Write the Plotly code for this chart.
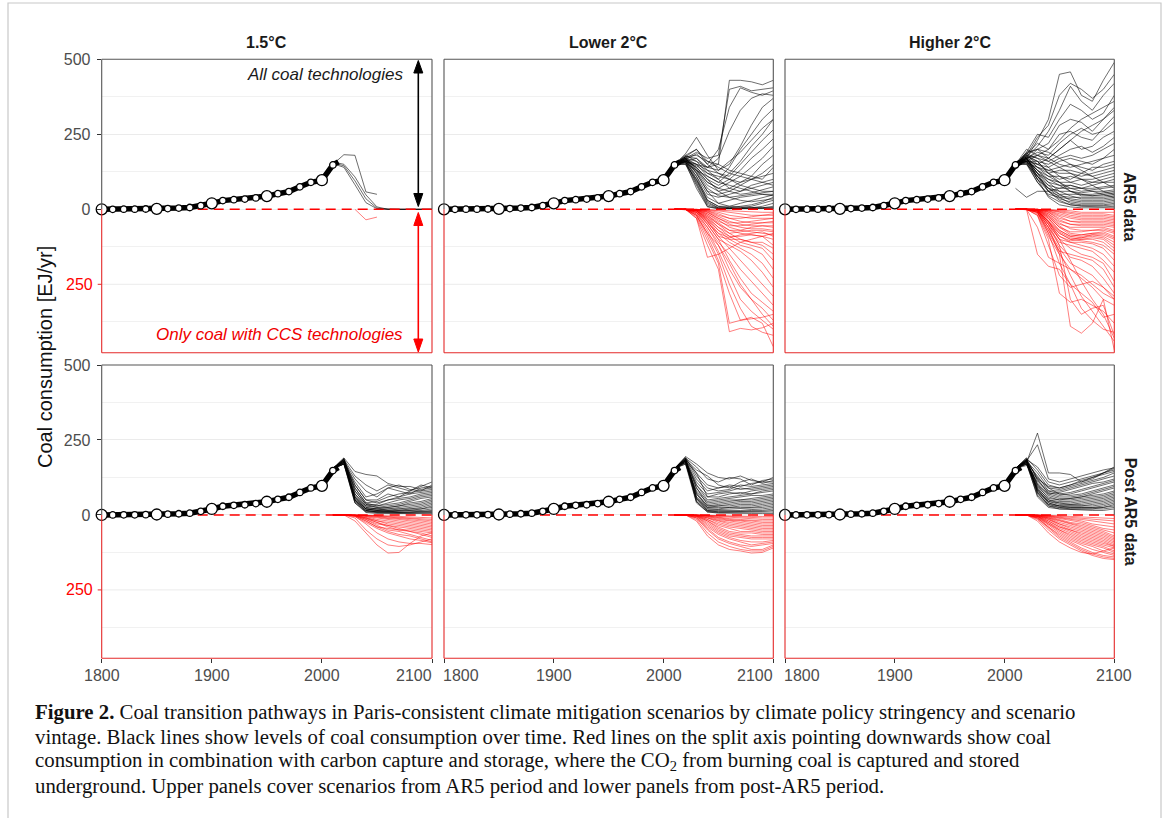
import plotly.graph_objects as go

W, H = 1169, 818

# ---------------- data ----------------
hist_years = [1800, 1810, 1820, 1830, 1840, 1850, 1860, 1870, 1880, 1890, 1900, 1910, 1920, 1930,
              1940, 1950, 1960, 1970, 1980, 1990, 2000, 2005, 2010, 2015]
hist_vals = [0, 0, 0.5, 0.5, 1, 1.5, 2.5, 4, 6, 12, 20, 29, 32, 34, 38, 44, 52, 59, 75, 90, 97, 125, 148, 158]

scen_years = [2010, 2020, 2030, 2040, 2050, 2060, 2070, 2080, 2090, 2100]

col_titles = ["1.5°C", "Lower 2°C", "Higher 2°C"]
row_titles = ["AR5 data", "Post AR5 data"]
x_ticks = [1800, 1900, 2000, 2100]
y_ticks_pos = [500, 250, 0]          # labelled black ticks (all coal)
y_tick_neg = -250                    # labelled red tick (coal with CCS), shown as "250"
y_minor = [375, 125, -125, -375]

# 1.5°C, AR5 — all coal
p1_black = [
    [150, 182, 180, 58, 50, None, None, None, None, None],
    [152, 140, 82, 22, 2, 0, 0, 0, 0, 0],
    [155, 145, 95, 35, 4, 0, 0, 0, 0, 0],
    [158, 150, 108, 48, 8, 0, 0, 0, 0, 0],
]
# 1.5°C, AR5 — coal with CCS
p1_red = [
    [None, None, 0, 35, 26, None, None, None, None, None],
    [None, None, None, None, 0, 0, 0, 0, 0, 0],
]

p2_black = [
    [150, 175, 200, 160, 150, 430, 430, 425, 415, 430],
    [150, 170, 190, 170, 180, 400, 410, 395, 400, 405],
    [150, 165, 185, 150, 200, 340, 405, 390, 380, 395],
    [150, 160, 170, 140, 170, 260, 330, 370, 385, 380],
    [150, 185, 240, 180, 130, 150, 210, 280, 340, 370],
    [150, 170, 160, 120, 100, 140, 200, 250, 300, 335],
    [150, 160, 150, 110, 90, 120, 160, 210, 250, 300],
    [150, 175, 170, 130, 120, 110, 150, 190, 230, 265],
    [150, 165, 140, 100, 80, 100, 130, 170, 200, 235],
    [150, 155, 130, 90, 70, 90, 110, 140, 170, 210],
    [150, 160, 145, 120, 110, 100, 90, 110, 150, 180],
    [150, 170, 130, 80, 60, 70, 90, 100, 120, 150],
    [150, 180, 160, 140, 150, 130, 120, 110, 100, 140],
    [150, 165, 120, 60, 50, 60, 80, 100, 110, 120],
    [150, 158, 110, 50, 40, 50, 60, 80, 90, 100],
    [150, 170, 150, 130, 100, 70, 60, 70, 80, 90],
    [150, 175, 135, 90, 70, 60, 50, 55, 65, 75],
    [150, 160, 125, 70, 45, 40, 45, 50, 55, 60],
    [150, 150, 100, 40, 20, 30, 40, 45, 50, 50],
    [150, 165, 110, 30, 10, 10, 20, 30, 40, 48],
    [150, 155, 90, 20, 5, 5, 10, 15, 25, 40],
    [150, 170, 130, 110, 90, 80, 70, 60, 50, 45],
    [150, 160, 140, 100, 60, 40, 30, 25, 30, 35],
    [150, 150, 80, 10, 2, 2, 5, 10, 20, 30],
    [150, 165, 100, 25, 5, 3, 3, 5, 10, 20],
    [150, 155, 70, 8, 2, 2, 2, 3, 5, 10],
    [150, 160, 85, 15, 3, 2, 2, 2, 3, 5],
    [150, 170, 120, 60, 20, 10, 8, 6, 5, 5],
    [150, 158, 95, 30, 10, 5, 4, 3, 3, 3],
    [150, 180, 200, 150, 120, 100, 80, 70, 60, 60],
    [150, 175, 180, 160, 140, 120, 110, 100, 90, 80],
    [150, 165, 150, 140, 130, 160, 190, 230, 270, 300],
]
p2_red = [
    [0, 0, 30, 120, 200, 408, 397, 402, 395, 380],
    [0, 0, 25, 100, 180, 380, 370, 365, 360, 350],
    [0, 0, 20, 90, 170, 280, 370, 360, 380, 458],
    [0, 0, 20, 80, 150, 250, 330, 390, 410, 420],
    [0, 0, 15, 70, 140, 220, 300, 340, 370, 400],
    [0, 0, 15, 60, 120, 200, 260, 300, 330, 370],
    [0, 0, 10, 50, 100, 170, 230, 280, 310, 340],
    [0, 0, 10, 60, 110, 150, 200, 240, 280, 320],
    [0, 0, 10, 40, 90, 130, 170, 210, 250, 290],
    [0, 0, 5, 50, 100, 120, 140, 170, 210, 260],
    [0, 0, 10, 45, 80, 110, 130, 150, 180, 230],
    [0, 0, 5, 35, 70, 100, 120, 130, 150, 200],
    [0, 0, 5, 30, 60, 90, 110, 120, 130, 170],
    [0, 0, 5, 40, 90, 100, 100, 110, 120, 150],
    [0, 0, 5, 25, 50, 80, 100, 110, 110, 130],
    [0, 0, 5, 30, 70, 90, 90, 85, 90, 120],
    [0, 0, 2, 20, 45, 70, 80, 85, 90, 100],
    [0, 0, 5, 35, 80, 95, 85, 80, 75, 90],
    [0, 0, 2, 15, 35, 60, 70, 75, 80, 85],
    [0, 0, 3, 25, 60, 80, 75, 70, 70, 75],
    [0, 0, 2, 10, 30, 50, 60, 65, 65, 70],
    [0, 0, 2, 20, 50, 70, 70, 60, 55, 60],
    [0, 0, 1, 8, 25, 40, 50, 55, 55, 55],
    [0, 0, 2, 15, 40, 55, 55, 50, 45, 45],
    [0, 0, 1, 5, 15, 30, 40, 45, 45, 40],
    [0, 0, 1, 10, 30, 45, 45, 40, 35, 30],
    [0, 0, 0, 3, 10, 20, 25, 30, 30, 30],
    [0, 0, 0, 5, 20, 30, 30, 25, 20, 20],
    [0, 0, 0, 2, 5, 10, 15, 20, 20, 15],
    [0, 0, 0, 1, 3, 5, 8, 10, 10, 10],
    [0, 0, 30, 160, 150, 130, 110, 100, 90, 80],
    [0, 0, 20, 80, 120, 180, 250, 300, 350, 390],
]

p3_black = [
    [150, 170, 230, 300, 450, 458, 380, 360, 430, 490],
    [150, 180, 240, 280, 380, 420, 400, 370, 400, 450],
    [150, 175, 210, 260, 330, 410, 360, 330, 380, 420],
    [150, 190, 250, 240, 300, 350, 330, 300, 320, 380],
    [150, 165, 200, 220, 280, 300, 290, 260, 300, 340],
    [150, 185, 220, 200, 250, 260, 240, 230, 270, 310],
    [150, 170, 190, 180, 220, 250, 270, 250, 260, 290],
    [150, 160, 180, 170, 200, 230, 200, 210, 240, 260],
    [150, 180, 170, 160, 180, 200, 210, 190, 210, 240],
    [150, 175, 160, 150, 170, 180, 170, 180, 200, 220],
    [150, 165, 150, 140, 160, 170, 160, 150, 170, 200],
    [150, 190, 200, 170, 150, 140, 150, 160, 170, 180],
    [150, 170, 140, 130, 140, 150, 140, 130, 150, 160],
    [150, 160, 160, 120, 130, 130, 120, 140, 140, 150],
    [150, 180, 150, 130, 120, 120, 110, 120, 130, 140],
    [150, 165, 130, 110, 110, 100, 120, 110, 120, 130],
    [150, 155, 140, 120, 100, 110, 100, 100, 110, 120],
    [150, 170, 120, 100, 90, 90, 100, 90, 100, 110],
    [150, 185, 170, 140, 110, 90, 80, 90, 90, 100],
    [150, 160, 120, 90, 80, 80, 70, 80, 90, 90],
    [150, 175, 140, 110, 90, 70, 70, 70, 75, 80],
    [150, 150, 110, 80, 70, 70, 60, 65, 70, 75],
    [150, 165, 130, 100, 80, 60, 55, 60, 60, 65],
    [150, 170, 110, 70, 60, 60, 50, 50, 55, 60],
    [150, 155, 100, 70, 50, 50, 50, 45, 50, 55],
    [150, 180, 160, 120, 90, 60, 45, 45, 45, 50],
    [150, 160, 110, 60, 45, 40, 40, 40, 40, 45],
    [150, 170, 130, 90, 60, 45, 35, 35, 35, 40],
    [150, 150, 90, 50, 40, 35, 30, 30, 30, 35],
    [150, 165, 120, 80, 50, 30, 25, 25, 25, 30],
    [150, 175, 100, 60, 35, 25, 20, 20, 20, 25],
    [150, 160, 110, 70, 40, 20, 15, 15, 15, 20],
    [150, 155, 90, 45, 25, 15, 12, 12, 12, 15],
    [150, 170, 120, 60, 30, 15, 10, 8, 8, 10],
    [150, 160, 100, 40, 15, 8, 5, 5, 5, 5],
    [70, 40, 60, 60, 70, 80, 70, 60, 50, 40],
    [150, 200, 180, 160, 140, 120, 100, 80, 60, 50],
    [150, 185, 200, 190, 170, 150, 130, 110, 90, 70],
    [150, 170, 180, 200, 230, 270, 300, 320, 340, 360],
    [150, 160, 150, 170, 200, 230, 260, 280, 300, 330],
]
p3_red = [
    [0, 0, 10, 60, 150, 390, 413, 380, 300, 469],
    [0, 0, 5, 50, 120, 300, 350, 330, 320, 420],
    [0, 0, 150, 190, 200, 250, 330, 370, 400, 410],
    [0, 0, 20, 100, 280, 310, 300, 320, 340, 380],
    [0, 0, 10, 80, 180, 250, 280, 310, 360, 350],
    [0, 0, 15, 90, 150, 200, 230, 260, 300, 320],
    [0, 0, 10, 70, 130, 180, 200, 220, 260, 300],
    [0, 0, 5, 60, 120, 160, 170, 190, 230, 280],
    [0, 0, 10, 80, 140, 150, 160, 170, 200, 260],
    [0, 0, 5, 50, 100, 130, 150, 160, 180, 240],
    [0, 0, 5, 60, 110, 120, 130, 140, 170, 210],
    [0, 0, 5, 40, 90, 110, 120, 130, 150, 190],
    [0, 0, 5, 50, 100, 110, 110, 115, 130, 170],
    [0, 0, 3, 40, 80, 100, 105, 110, 120, 150],
    [0, 0, 5, 45, 90, 105, 100, 100, 110, 140],
    [0, 0, 3, 35, 75, 95, 100, 95, 100, 130],
    [0, 0, 3, 30, 70, 90, 95, 90, 95, 120],
    [0, 0, 2, 40, 80, 100, 95, 85, 90, 110],
    [0, 0, 2, 25, 60, 85, 90, 85, 85, 100],
    [0, 0, 2, 30, 70, 90, 85, 80, 80, 95],
    [0, 0, 2, 20, 55, 80, 85, 80, 75, 90],
    [0, 0, 1, 25, 60, 75, 75, 70, 70, 80],
    [0, 0, 1, 15, 45, 65, 70, 70, 65, 75],
    [0, 0, 1, 20, 50, 60, 60, 60, 60, 70],
    [0, 0, 1, 10, 35, 50, 55, 55, 55, 60],
    [0, 0, 1, 15, 40, 50, 50, 50, 50, 55],
    [0, 0, 0, 8, 25, 40, 45, 45, 45, 50],
    [0, 0, 0, 10, 30, 40, 40, 40, 40, 45],
    [0, 0, 0, 5, 20, 30, 35, 35, 35, 40],
    [0, 0, 0, 5, 15, 25, 30, 30, 30, 35],
    [0, 0, 0, 3, 10, 20, 25, 25, 25, 30],
    [0, 0, 0, 2, 8, 15, 20, 20, 20, 25],
    [0, 0, 0, 2, 5, 10, 15, 15, 15, 20],
    [0, 0, 0, 1, 3, 5, 10, 10, 10, 10],
    [0, 0, 60, 160, 180, 200, 220, 250, 280, 300],
    [0, 0, 20, 120, 220, 260, 250, 240, 260, 290],
    [0, 0, 5, 40, 100, 170, 240, 300, 350, 430],
    [0, 0, 10, 70, 140, 220, 290, 340, 390, 440],
]

p4_black = [
    [155, 190, 145, 135, 130, 105, 95, 95, 85, 90],
    [155, 185, 130, 100, 80, 100, 90, 80, 95, 110],
    [155, 180, 120, 80, 60, 90, 100, 85, 80, 100],
    [155, 175, 110, 60, 70, 90, 80, 70, 90, 95],
    [155, 185, 100, 50, 50, 70, 60, 80, 100, 90],
    [155, 180, 90, 40, 45, 60, 70, 75, 80, 85],
    [155, 175, 100, 50, 40, 50, 60, 70, 75, 80],
    [155, 190, 80, 35, 35, 50, 55, 60, 70, 75],
    [155, 170, 90, 40, 30, 40, 50, 55, 65, 70],
    [155, 185, 70, 30, 30, 35, 40, 50, 60, 65],
    [155, 180, 80, 35, 25, 30, 35, 45, 55, 60],
    [155, 175, 60, 25, 20, 25, 30, 40, 45, 55],
    [155, 170, 70, 30, 25, 25, 30, 35, 40, 50],
    [155, 185, 60, 20, 20, 20, 25, 30, 35, 45],
    [155, 180, 50, 20, 15, 20, 20, 25, 30, 40],
    [155, 175, 65, 25, 20, 15, 20, 20, 25, 35],
    [155, 170, 55, 20, 15, 15, 15, 20, 20, 30],
    [155, 180, 50, 15, 12, 12, 15, 15, 20, 25],
    [155, 175, 45, 15, 10, 10, 12, 15, 15, 20],
    [155, 185, 55, 20, 15, 12, 10, 10, 12, 15],
    [155, 170, 40, 12, 10, 8, 8, 10, 10, 12],
    [155, 180, 50, 15, 10, 8, 8, 8, 8, 10],
    [155, 175, 45, 10, 8, 6, 6, 6, 6, 8],
    [155, 170, 40, 8, 5, 5, 5, 5, 5, 5],
]
p4_red = [
    [0, 0, 20, 60, 100, 127, 125, 95, 70, 60],
    [0, 0, 10, 50, 80, 100, 105, 100, 90, 80],
    [0, 0, 5, 30, 60, 80, 90, 95, 95, 99],
    [0, 0, 5, 25, 45, 60, 70, 80, 85, 93],
    [0, 0, 3, 20, 40, 55, 65, 70, 80, 90],
    [0, 0, 2, 15, 35, 50, 55, 65, 75, 85],
    [0, 0, 3, 20, 40, 45, 50, 55, 60, 70],
    [0, 0, 2, 12, 25, 35, 45, 55, 65, 75],
    [0, 0, 1, 10, 25, 40, 50, 50, 55, 60],
    [0, 0, 2, 15, 30, 35, 40, 45, 50, 55],
    [0, 0, 1, 8, 20, 30, 35, 40, 45, 50],
    [0, 0, 1, 10, 20, 25, 30, 35, 40, 45],
    [0, 0, 0, 5, 15, 20, 25, 30, 35, 40],
    [0, 0, 0, 5, 10, 15, 20, 25, 30, 35],
    [0, 0, 0, 3, 8, 12, 15, 20, 25, 30],
    [0, 0, 0, 2, 5, 10, 12, 15, 20, 25],
    [0, 0, 0, 2, 4, 8, 10, 12, 15, 20],
    [0, 0, 0, 1, 3, 5, 8, 10, 12, 15],
    [0, 0, 0, 1, 2, 3, 5, 8, 10, 10],
]

p5_black = [
    [155, 195, 170, 140, 125, 120, 130, 115, 110, 125],
    [155, 190, 160, 120, 110, 125, 120, 100, 115, 120],
    [155, 185, 150, 130, 100, 90, 110, 120, 105, 115],
    [155, 180, 140, 100, 90, 100, 95, 105, 110, 110],
    [155, 190, 130, 90, 80, 85, 100, 95, 100, 105],
    [155, 185, 120, 80, 90, 95, 85, 90, 95, 100],
    [155, 180, 110, 70, 75, 80, 90, 85, 90, 95],
    [155, 175, 100, 60, 70, 75, 70, 80, 85, 90],
    [155, 190, 140, 60, 60, 70, 75, 70, 80, 85],
    [155, 185, 100, 50, 55, 60, 65, 70, 75, 80],
    [155, 180, 90, 45, 50, 55, 60, 65, 65, 70],
    [155, 175, 80, 40, 45, 50, 50, 55, 60, 65],
    [155, 185, 90, 35, 40, 45, 50, 50, 55, 60],
    [155, 180, 70, 30, 35, 40, 45, 45, 50, 55],
    [155, 170, 75, 30, 30, 35, 40, 40, 45, 50],
    [155, 185, 60, 25, 30, 30, 35, 35, 40, 45],
    [155, 180, 70, 25, 25, 25, 30, 30, 35, 40],
    [155, 175, 55, 20, 20, 25, 25, 25, 30, 35],
    [155, 190, 60, 20, 18, 20, 20, 22, 25, 30],
    [155, 180, 50, 15, 15, 15, 15, 18, 20, 25],
    [155, 175, 45, 12, 12, 12, 12, 15, 15, 20],
    [155, 185, 55, 15, 10, 10, 10, 10, 12, 15],
    [155, 170, 40, 10, 8, 8, 8, 8, 10, 10],
    [155, 180, 45, 10, 6, 5, 5, 5, 5, 5],
]
p5_red = [
    [0, 0, 20, 70, 100, 115, 120, 127, 125, 110],
    [0, 0, 15, 60, 90, 105, 115, 120, 120, 105],
    [0, 0, 10, 50, 80, 95, 105, 115, 115, 100],
    [0, 0, 10, 45, 75, 90, 100, 105, 100, 95],
    [0, 0, 8, 40, 65, 80, 90, 100, 95, 90],
    [0, 0, 5, 35, 60, 75, 85, 90, 90, 85],
    [0, 0, 5, 30, 55, 70, 75, 80, 80, 80],
    [0, 0, 4, 25, 50, 65, 70, 75, 75, 75],
    [0, 0, 3, 20, 45, 60, 65, 70, 70, 70],
    [0, 0, 3, 20, 40, 55, 60, 60, 65, 65],
    [0, 0, 2, 15, 35, 45, 55, 55, 60, 60],
    [0, 0, 2, 15, 30, 40, 45, 50, 55, 55],
    [0, 0, 2, 10, 25, 35, 40, 45, 50, 50],
    [0, 0, 1, 10, 20, 30, 35, 40, 45, 45],
    [0, 0, 1, 8, 18, 25, 30, 35, 40, 40],
    [0, 0, 1, 5, 15, 20, 25, 30, 35, 35],
    [0, 0, 0, 5, 12, 18, 20, 25, 30, 30],
    [0, 0, 0, 3, 10, 15, 18, 20, 25, 25],
    [0, 0, 0, 3, 8, 12, 15, 18, 20, 20],
    [0, 0, 0, 2, 5, 8, 10, 12, 15, 15],
    [0, 0, 0, 1, 3, 5, 8, 10, 10, 10],
    [0, 0, 0, 1, 2, 3, 5, 5, 5, 5],
]

p6_black = [
    [155, 175, 273, 140, 140, 135, 110, 120, 140, 160],
    [155, 180, 234, 120, 110, 120, 130, 140, 150, 157],
    [155, 185, 160, 110, 100, 110, 120, 130, 140, 150],
    [155, 190, 150, 100, 90, 100, 115, 125, 135, 145],
    [155, 180, 140, 90, 85, 95, 105, 115, 125, 140],
    [155, 175, 130, 80, 80, 90, 100, 110, 120, 130],
    [155, 185, 120, 70, 75, 85, 95, 105, 110, 120],
    [155, 180, 125, 90, 70, 75, 85, 95, 105, 115],
    [155, 170, 110, 75, 65, 70, 80, 90, 100, 110],
    [155, 190, 115, 80, 70, 65, 70, 80, 90, 100],
    [155, 180, 100, 70, 60, 60, 65, 75, 85, 95],
    [155, 175, 105, 65, 55, 55, 60, 70, 80, 90],
    [155, 185, 95, 60, 50, 55, 60, 65, 70, 80],
    [155, 180, 100, 55, 50, 50, 55, 60, 65, 75],
    [155, 170, 90, 50, 45, 45, 50, 55, 60, 70],
    [155, 185, 85, 45, 40, 40, 45, 50, 55, 65],
    [155, 180, 90, 50, 40, 35, 40, 45, 50, 60],
    [155, 175, 80, 45, 35, 35, 35, 40, 45, 55],
    [155, 170, 85, 40, 30, 30, 30, 35, 40, 50],
    [155, 185, 75, 35, 30, 30, 30, 30, 35, 45],
    [155, 180, 80, 40, 30, 25, 25, 25, 30, 40],
    [155, 175, 70, 35, 25, 25, 25, 25, 25, 35],
    [155, 170, 65, 30, 25, 20, 20, 20, 25, 30],
    [155, 180, 75, 30, 20, 20, 18, 18, 20, 25],
    [155, 175, 60, 25, 20, 18, 15, 15, 15, 20],
    [155, 165, 120, 95, 90, 100, 110, 125, 140, 155],
]
p6_red = [
    [0, 0, 15, 50, 80, 100, 120, 135, 145, 149],
    [0, 0, 12, 45, 75, 95, 115, 130, 140, 145],
    [0, 0, 10, 40, 70, 90, 110, 125, 135, 140],
    [0, 0, 10, 40, 65, 85, 100, 115, 125, 135],
    [0, 0, 8, 35, 60, 80, 95, 105, 120, 130],
    [0, 0, 8, 30, 55, 75, 90, 100, 110, 125],
    [0, 0, 5, 30, 50, 70, 85, 95, 105, 120],
    [0, 0, 5, 25, 50, 65, 80, 90, 100, 110],
    [0, 0, 5, 25, 45, 60, 75, 85, 95, 105],
    [0, 0, 4, 20, 40, 55, 70, 80, 90, 104],
    [0, 0, 4, 20, 40, 50, 65, 75, 85, 100],
    [0, 0, 3, 15, 35, 50, 60, 70, 80, 95],
    [0, 0, 3, 15, 30, 45, 55, 65, 75, 90],
    [0, 0, 2, 12, 30, 40, 50, 60, 70, 85],
    [0, 0, 2, 10, 25, 35, 45, 55, 65, 80],
    [0, 0, 2, 10, 20, 30, 40, 50, 60, 75],
    [0, 0, 1, 8, 18, 28, 35, 45, 55, 70],
    [0, 0, 1, 6, 15, 25, 30, 40, 50, 60],
    [0, 0, 1, 5, 12, 20, 25, 35, 45, 50],
    [0, 0, 0, 4, 10, 15, 20, 30, 35, 40],
    [0, 0, 0, 3, 8, 12, 15, 20, 25, 30],
    [0, 0, 0, 2, 5, 8, 10, 12, 15, 20],
    [0, 0, 0, 1, 3, 5, 5, 8, 10, 12],
    [0, 0, 20, 60, 90, 110, 125, 130, 120, 110],
]

caption_lines = [
    "<b>Figure 2.</b> Coal transition pathways in Paris-consistent climate mitigation scenarios by climate policy stringency and scenario",
    "vintage. Black lines show levels of coal consumption over time. Red lines on the split axis pointing downwards show coal",
    "consumption in combination with carbon capture and storage, where the CO<sub>2</sub> from burning coal is captured and stored",
    "underground. Upper panels cover scenarios from AR5 period and lower panels from post-AR5 period.",
]

# ---------------- layout geometry ----------------
Y_MIN, Y_MAX = -478, 500
X_MIN, X_MAX = 1800, 2100
col_px = [(101.7, 432.0), (444.0, 773.3), (785.0, 1114.3)]
row_px = [(59.3, 352.7), (365.0, 658.3)]

def fx(px):
    return px / W

def fy(py):
    return 1 - py / H

panels = [
    (0, 0, p1_black, p1_red), (0, 1, p2_black, p2_red), (0, 2, p3_black, p3_red),
    (1, 0, p4_black, p4_red), (1, 1, p5_black, p5_red), (1, 2, p6_black, p6_red),
]

SANS = "Liberation Sans, Arial, sans-serif"
GREY_TXT = "#4d4d4d"
RED = "#ff0000"
FRAME_RED = "rgb(228,40,40)"
FRAME_GREY = "#555555"
GRID = "#ebebeb"

fig = go.Figure()
layout = dict(width=W, height=H, margin=dict(l=0, r=0, t=0, b=0), autosize=False,
              template="none", paper_bgcolor="white", plot_bgcolor="white", showlegend=False)
shapes = []
annotations = []

def seg(a, b, cc, d, col, w=1.1):
    return dict(type="line", xref="paper", yref="paper", x0=fx(a), y0=fy(b), x1=fx(cc), y1=fy(d),
                line=dict(color=col, width=w), layer="above")

for i, (r, c, blk, red) in enumerate(panels):
    n = i + 1
    xa = "x" if n == 1 else f"x{n}"
    ya = "y" if n == 1 else f"y{n}"
    x0, x1 = col_px[c]
    y0, y1 = row_px[r]
    layout["xaxis" if n == 1 else f"xaxis{n}"] = dict(
        domain=[fx(x0), fx(x1)], range=[X_MIN, X_MAX], anchor=ya,
        showgrid=False, zeroline=False, showline=False,
        tickvals=x_ticks, showticklabels=False, ticks="outside" if r == 1 else "",
        ticklen=4, tickcolor="#333333", tickwidth=1, automargin=False,
    )
    layout["yaxis" if n == 1 else f"yaxis{n}"] = dict(
        domain=[fy(y1), fy(y0)], range=[Y_MIN, Y_MAX], anchor=xa,
        showgrid=True, gridcolor=GRID, gridwidth=1, zeroline=False, showline=False,
        tickvals=y_ticks_pos, ticktext=[str(t) for t in y_ticks_pos], showticklabels=(c == 0),
        ticks="outside" if c == 0 else "", ticklen=4, tickcolor="#333333", tickwidth=1,
        ticklabelstandoff=3,
        tickfont=dict(family=SANS, size=16, color=GREY_TXT), automargin=False,
        minor=dict(tickvals=y_minor, showgrid=True, gridcolor="#f1f1f1", gridwidth=0.8, ticks=""),
    )
    # major gridline of the CCS half (drawn as a line in data coordinates)
    shapes.append(dict(type="line", xref=f"{xa} domain", yref=ya, x0=0, x1=1, y0=y_tick_neg, y1=y_tick_neg,
                       line=dict(color=GRID, width=1), layer="below"))

    # scenario lines
    for row in red:
        fig.add_trace(go.Scatter(x=scen_years, y=[None if v is None else -v for v in row], mode="lines",
                                 line=dict(color="rgba(255,0,0,0.6)", width=0.85),
                                 xaxis=xa, yaxis=ya, hoverinfo="skip"))
    for row in blk:
        fig.add_trace(go.Scatter(x=scen_years, y=row, mode="lines",
                                 line=dict(color="rgba(0,0,0,0.68)", width=0.85),
                                 xaxis=xa, yaxis=ya, hoverinfo="skip"))
    # zero dashed line
    fig.add_trace(go.Scatter(x=[X_MIN, X_MAX], y=[0, 0], mode="lines",
                             line=dict(color=RED, width=1.6, dash="10px,6px"),
                             xaxis=xa, yaxis=ya, hoverinfo="skip"))
    # historical thick line
    fig.add_trace(go.Scatter(x=hist_years, y=hist_vals, mode="lines",
                             line=dict(color="black", width=5.5),
                             xaxis=xa, yaxis=ya, hoverinfo="skip"))
    # historical circles (decades; larger every 50 years)
    dec_x = [yr for yr in hist_years if yr % 10 == 0]
    dec_y = [v for yr, v in zip(hist_years, hist_vals) if yr % 10 == 0]
    sizes = [11 if yr % 50 == 0 else 6.5 for yr in dec_x]
    fig.add_trace(go.Scatter(x=dec_x, y=dec_y, mode="markers",
                             marker=dict(color="white", size=sizes, opacity=1,
                                         line=dict(color="black", width=1.3)),
                             xaxis=xa, yaxis=ya, hoverinfo="skip", cliponaxis=False))

    # split frame: grey above zero, red below
    zpy = y0 + (Y_MAX - 0) / (Y_MAX - Y_MIN) * (y1 - y0)
    shapes += [seg(x0, y0, x1, y0, FRAME_GREY), seg(x0, y0, x0, zpy, FRAME_GREY), seg(x1, y0, x1, zpy, FRAME_GREY),
               seg(x0, zpy, x0, y1, FRAME_RED), seg(x1, zpy, x1, y1, FRAME_RED), seg(x0, y1, x1, y1, FRAME_RED)]
    if c == 0:
        # red tick and red label for the CCS half of the split axis
        shapes.append(dict(type="line", xref="paper", yref=ya, x0=fx(x0 - 4), x1=fx(x0),
                           y0=y_tick_neg, y1=y_tick_neg, line=dict(color=FRAME_RED, width=1), layer="above"))
        annotations.append(dict(text=str(abs(y_tick_neg)), xref="paper", yref=ya, x=fx(x0 - 7), y=y_tick_neg,
                                xanchor="right", yanchor="middle", showarrow=False,
                                font=dict(family=SANS, size=16, color=RED)))

    # x tick labels (bottom row) as text so that the shared-edge labels sit side by side
    if r == 1:
        for t in x_ticks:
            anchor, shift = "center", 0
            if t == X_MAX and c < 2:
                anchor, shift = "right", 2
            if t == X_MIN and c > 0:
                anchor, shift = "left", -3
            annotations.append(dict(text=str(t), x=t, xref=xa, y=fy(y1 + 17), yref="paper",
                                    xanchor=anchor, yanchor="middle", xshift=shift, showarrow=False,
                                    font=dict(family=SANS, size=16, color=GREY_TXT)))

    # strips
    if r == 0:
        annotations.append(dict(text=f"<b>{col_titles[c]}</b>", xref="paper", yref="paper",
                                x=fx((x0 + x1) / 2), y=fy(42.5), showarrow=False,
                                font=dict(family=SANS, size=16, color="#1a1a1a"),
                                xanchor="center", yanchor="middle"))
    if c == 2:
        annotations.append(dict(text=f"<b>{row_titles[r]}</b>", xref="paper", yref="paper",
                                x=fx(1130), y=fy((y0 + y1) / 2), showarrow=False, textangle=90,
                                font=dict(family=SANS, size=16, color="#1a1a1a"),
                                xanchor="center", yanchor="middle"))

# double-headed arrows in the first panel (drawn as shapes)
ax_px = 418.3
def head(tip_y, base_y, col):
    return dict(type="path", xref="paper", yref="paper",
                path=f"M {fx(ax_px)},{fy(tip_y)} L {fx(ax_px - 4.5)},{fy(base_y)} L {fx(ax_px + 4.5)},{fy(base_y)} Z",
                fillcolor=col, line=dict(color=col, width=1), layer="above")
shapes += [seg(ax_px, 66, ax_px, 200, "black", 1.6), head(60.5, 73, "black"), head(206.5, 193.5, "black"),
           seg(ax_px, 219, ax_px, 345, RED, 1.6), head(212.5, 225.5, RED), head(352, 339, RED)]

annotations.append(dict(text="<i>All coal technologies</i>", x=2075.5, y=448, xref="x", yref="y",
                        showarrow=False, xanchor="right", yanchor="middle",
                        font=dict(family=SANS, size=17, color="#1a1a1a")))
annotations.append(dict(text="<i>Only coal with CCS technologies</i>", x=2075.5, y=-419, xref="x", yref="y",
                        showarrow=False, xanchor="right", yanchor="middle",
                        font=dict(family=SANS, size=17, color="#f00000")))

# y-axis title
annotations.append(dict(text="Coal consumption [EJ/yr]", xref="paper", yref="paper",
                        x=fx(45), y=fy(357), showarrow=False, textangle=-90,
                        font=dict(family=SANS, size=20, color="#111111"),
                        xanchor="center", yanchor="middle"))

# caption
for k, line in enumerate(caption_lines):
    annotations.append(dict(text=line, xref="paper", yref="paper", x=fx(33), y=fy(712 + 24.5 * k),
                            showarrow=False, xanchor="left", yanchor="middle",
                            font=dict(family="Liberation Serif, Times New Roman, serif", size=20.8, color="#111111")))

# outer frame of the figure
shapes.append(dict(type="rect", xref="paper", yref="paper", x0=fx(8), x1=fx(1161), y0=-0.05, y1=fy(3),
                   line=dict(color="#c8c8c8", width=1.2), fillcolor="rgba(0,0,0,0)", layer="below"))

layout["shapes"] = shapes
layout["annotations"] = annotations
fig.update_layout(**layout)
fig.write_html("out.html")
